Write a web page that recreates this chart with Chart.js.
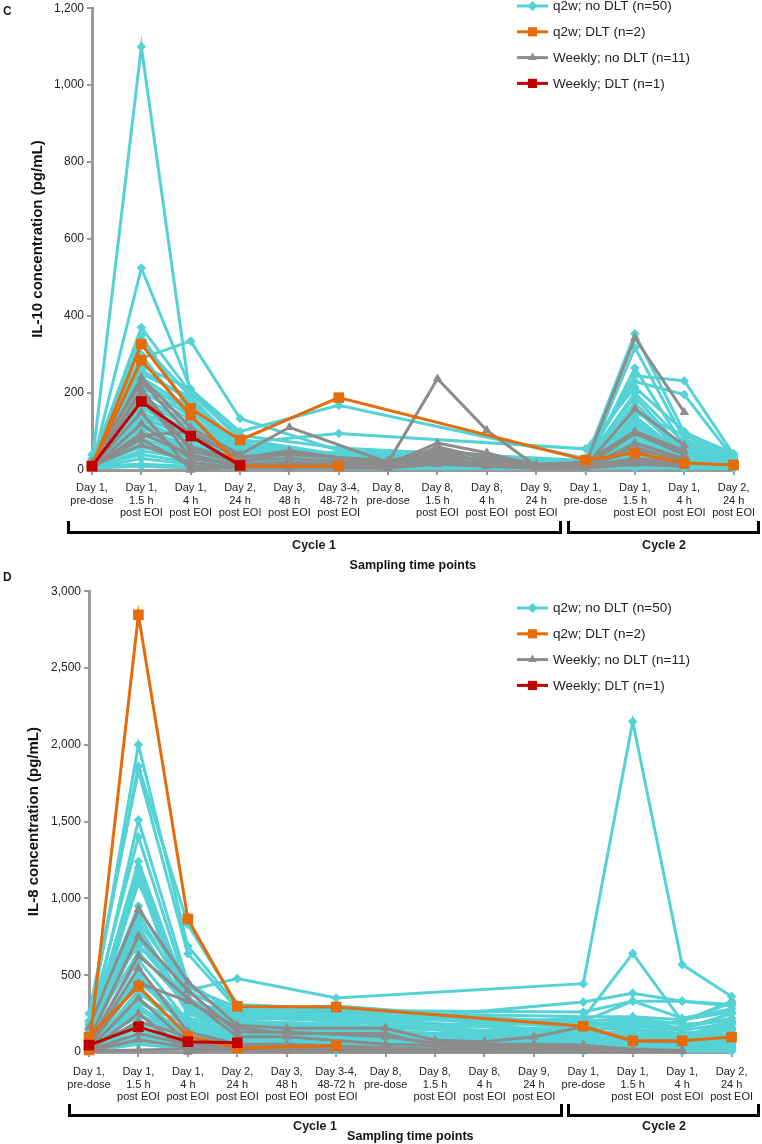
<!DOCTYPE html>
<html><head><meta charset="utf-8">
<script src="https://cdn.jsdelivr.net/npm/chart.js@4.4.1/dist/chart.umd.min.js"></script>
<style>
html,body{margin:0;padding:0;background:#fff;}
#page{position:relative;width:762px;height:1144px;overflow:hidden;font-family:Arial,'Liberation Sans',sans-serif;color:#1a1a1a;}
.box{position:absolute;left:0;width:762px;}
.letter{position:absolute;font-weight:bold;font-size:12px;line-height:12px;}
.br{position:absolute;border:3px solid #000;border-top:none;box-sizing:border-box;}
.cyc{position:absolute;font-weight:bold;font-size:12.5px;line-height:13px;transform:translate(-50%,-50%);white-space:nowrap;}
</style></head><body>
<div id="page">
  <div class="box" style="top:-2px;height:577px"><canvas id="cC"></canvas></div>
  <div class="box" style="top:581px;height:563px"><canvas id="cD"></canvas></div>
  <div class="letter" style="left:3px;top:5px">C</div>
  <div class="letter" style="left:3px;top:571px">D</div>
  <div class="br" style="left:67px;top:521px;width:495px;height:13px"></div>
  <div class="br" style="left:567px;top:521px;width:193px;height:13px"></div>
  <div class="cyc" style="left:314px;top:545px">Cycle 1</div>
  <div class="cyc" style="left:664px;top:545px">Cycle 2</div>
  <div class="br" style="left:68px;top:1104px;width:495px;height:13px"></div>
  <div class="br" style="left:567px;top:1104px;width:193px;height:13px"></div>
  <div class="cyc" style="left:315px;top:1126px">Cycle 1</div>
  <div class="cyc" style="left:664px;top:1126px">Cycle 2</div>
</div>
<script>
const _ = null;
const timeLabels = [
  ["Day 1,","pre-dose"],["Day 1,","1.5 h","post EOI"],["Day 1,","4 h","post EOI"],
  ["Day 2,","24 h","post EOI"],["Day 3,","48 h","post EOI"],["Day 3-4,","48-72 h","post EOI"],
  ["Day 8,","pre-dose"],["Day 8,","1.5 h","post EOI"],["Day 8,","4 h","post EOI"],
  ["Day 9,","24 h","post EOI"],["Day 1,","pre-dose"],["Day 1,","1.5 h","post EOI"],
  ["Day 1,","4 h","post EOI"],["Day 2,","24 h","post EOI"]
];
const groupNames = ["q2w; no DLT (n=50)", "q2w; DLT (n=2)", "Weekly; no DLT (n=11)", "Weekly; DLT (n=1)"];
const il10Ticks = [0, 200, 400, 600, 800, 1000, 1200];
const il8Ticks = [0, 500, 1000, 1500, 2000, 2500, 3000];

// ---------- IL-10 (panel C) ----------
const il10_q2w_noDLT = [
  [15,1100,180,60,_,30,_,_,_,_,20,160,60,20],
  [10,525,210,80,_,40,_,_,_,_,15,120,50,15],
  [20,370,200,90,_,57,_,_,_,_,25,354,97,43],
  [10,350,150,70,_,30,_,_,_,_,10,318,80,25],
  [15,330,190,60,_,20,_,_,_,_,10,265,60,20],
  [25,290,335,134,_,50,_,_,_,_,20,245,232,40],
  [10,270,210,100,_,168,_,_,_,_,30,230,196,30],
  [30,260,180,70,_,95,_,_,_,_,55,215,100,35],
  [10,250,190,50,_,45,_,_,_,_,20,200,70,20],
  [20,240,160,60,_,30,_,_,_,_,15,190,50,15],
  [10,230,150,55,_,25,_,_,_,_,10,175,45,20],
  [15,220,140,45,_,20,_,_,_,_,15,160,40,10],
  [10,205,130,40,_,15,_,_,_,_,10,140,35,10],
  [5,190,120,50,_,20,_,_,_,_,20,130,30,15],
  [10,180,110,40,_,20,_,_,_,_,10,120,25,10],
  [20,170,100,35,_,15,_,_,_,_,5,110,20,10],
  [10,160,100,30,_,10,_,_,_,_,10,100,30,20],
  [10,150,90,30,_,10,_,_,_,_,15,90,25,10],
  [5,140,80,25,_,10,_,_,_,_,10,80,20,15],
  [10,130,70,25,_,10,_,_,_,_,5,70,15,5],
  [15,120,70,20,_,15,_,_,_,_,10,60,20,10],
  [10,110,60,20,_,10,_,_,_,_,10,50,15,10],
  [5,100,55,15,_,10,_,_,_,_,5,45,10,5],
  [10,90,50,20,_,10,_,_,_,_,10,40,10,5],
  [10,80,45,15,_,5,_,_,_,_,5,35,10,10],
  [5,70,40,10,_,5,_,_,_,_,10,30,5,5],
  [10,60,35,10,_,5,_,_,_,_,5,25,5,5],
  [5,50,30,10,_,5,_,_,_,_,5,20,10,5],
  [10,40,20,10,_,5,_,_,_,_,5,15,5,5],
  [5,30,15,5,_,5,_,_,_,_,5,10,5,5],
  [10,15,10,5,_,5,_,_,_,_,5,10,5,5],
  [5,10,5,5,_,5,_,_,_,_,5,5,5,5],
  [40,135,90,60,_,35,_,_,_,_,20,90,60,20],
  [15,115,200,80,_,30,_,_,_,_,15,75,40,15],
  [20,300,130,65,_,25,_,_,_,_,25,150,90,30],
  [10,210,170,45,_,20,_,_,_,_,20,100,70,25],
  [5,95,60,30,_,15,_,_,_,_,10,60,40,15],
  [25,65,40,20,_,10,_,_,_,_,15,40,30,10]
];
const il10_q2w_DLT = [
  [10,327,160,78,_,188,_,_,_,_,26,44,18,13],
  [10,285,142,10,_,10,_,_,_,_,_,_,_,_]
];
const il10_weekly_noDLT = [
  [10,240,110,40,111,_,20,237,103,10,15,343,150,_],
  [5,210,50,20,45,_,15,70,45,10,10,159,64,_],
  [15,200,30,15,20,_,10,60,30,5,10,95,40,_],
  [10,150,0,10,10,_,10,50,20,5,5,70,30,_],
  [5,95,40,10,15,_,5,35,15,10,10,30,20,_],
  [10,65,20,5,10,_,5,20,10,5,5,20,10,_],
  [20,230,90,35,40,_,25,45,40,15,20,100,50,_],
  [10,180,60,25,30,_,15,40,25,10,10,50,30,_],
  [5,120,30,15,20,_,10,25,15,5,5,25,15,_],
  [10,80,10,5,5,_,5,15,10,5,5,15,10,_],
  [5,90,100,30,50,_,15,55,35,10,10,60,20,_]
];
const il10_weekly_DLT = [
  [10,178,88,12,_,_,_,_,_,_,_,_,_,_]
];

// ---------- IL-8 (panel D) ----------
const il8_q2w_noDLT = [
  [150,2000,690,300,_,250,_,_,_,_,200,220,180,200],
  [200,1860,830,310,_,280,_,_,_,_,150,150,120,150],
  [250,1830,640,280,_,300,_,_,_,_,180,200,150,250],
  [100,1510,450,250,_,230,_,_,_,_,120,120,100,180],
  [180,1400,400,230,_,200,_,_,_,_,100,100,90,150],
  [120,1240,350,200,_,180,_,_,_,_,90,80,70,120],
  [80,1200,300,180,_,150,_,_,_,_,80,70,60,100],
  [150,1150,280,160,_,130,_,_,_,_,60,60,50,80],
  [60,1130,250,150,_,120,_,_,_,_,50,50,40,70],
  [100,850,400,478,_,351,_,_,_,_,445,2152,569,362],
  [90,820,300,200,_,180,_,_,_,_,325,383,331,300],
  [70,800,250,180,_,150,_,_,_,_,220,642,200,320],
  [50,600,200,150,_,130,_,_,_,_,200,331,220,280],
  [40,530,180,130,_,100,_,_,_,_,150,220,150,250],
  [30,500,150,120,_,100,_,_,_,_,120,200,100,200],
  [60,480,140,110,_,90,_,_,_,_,100,150,80,150],
  [20,400,120,100,_,80,_,_,_,_,80,120,60,100],
  [30,350,100,90,_,70,_,_,_,_,60,100,50,80],
  [20,300,90,80,_,60,_,_,_,_,50,80,40,70],
  [10,280,80,70,_,50,_,_,_,_,40,60,30,60],
  [20,250,70,60,_,40,_,_,_,_,30,50,20,40],
  [10,200,60,50,_,30,_,_,_,_,20,40,20,30],
  [10,150,50,40,_,30,_,_,_,_,20,30,10,20],
  [5,100,40,30,_,20,_,_,_,_,10,20,10,10],
  [5,80,30,20,_,10,_,_,_,_,10,10,5,10],
  [5,50,20,10,_,10,_,_,_,_,5,10,5,5],
  [200,700,320,260,_,240,_,_,_,_,170,180,160,220],
  [160,950,380,270,_,260,_,_,_,_,230,230,210,260],
  [130,650,300,240,_,220,_,_,_,_,190,160,200,330],
  [110,1100,420,290,_,270,_,_,_,_,260,330,330,310],
  [90,900,340,220,_,210,_,_,_,_,140,170,140,190],
  [60,750,260,190,_,170,_,_,_,_,110,140,110,160],
  [40,450,220,170,_,160,_,_,_,_,130,110,120,140],
  [30,380,200,140,_,140,_,_,_,_,90,90,100,120],
  [20,320,180,130,_,120,_,_,_,_,70,70,80,90],
  [15,270,160,120,_,110,_,_,_,_,60,60,60,70],
  [50,230,150,100,_,100,_,_,_,_,40,40,40,50],
  [10,180,120,90,_,90,_,_,_,_,30,30,30,30],
  [5,120,100,80,_,80,_,_,_,_,20,20,20,20],
  [5,60,60,60,_,60,_,_,_,_,10,10,10,10]
];
const il8_q2w_DLT = [
  [13,2846,866,297,_,293,_,_,_,_,168,73,73,97],
  [97,427,103,26,_,41,_,_,_,_,_,_,_,_]
];
const il8_weekly_noDLT = [
  [160,930,455,174,155,_,155,77,67,99,164,70,65,_],
  [80,756,400,130,130,_,99,60,50,50,45,10,5,_],
  [50,627,349,100,100,_,50,40,30,30,30,10,5,_],
  [30,550,130,50,50,_,30,13,13,20,20,10,5,_],
  [20,350,60,30,30,_,20,10,10,10,10,5,5,_],
  [10,250,0,20,20,_,10,10,5,5,5,5,5,_],
  [20,200,100,40,40,_,25,20,15,15,15,10,10,_],
  [10,120,50,25,20,_,15,10,10,10,10,5,5,_],
  [5,80,30,15,10,_,10,5,5,5,5,5,5,_],
  [5,13,20,10,5,_,5,5,5,5,5,5,5,_],
  [40,450,330,160,120,_,120,40,40,40,40,20,10,_]
];
const il8_weekly_DLT = [
  [45,164,67,60,_,_,_,_,_,_,_,_,_,_]
];

// ---------- styles ----------
const CYAN = '#55D2D5', ORANGE = '#E46C0A', GRAY = '#8C8C8C', RED = '#C00000';
const groupStyles = [
  {color: CYAN, shape: 'rectRot', r: 4.8},
  {color: ORANGE, shape: 'rect', r: 7.5},
  {color: GRAY, shape: 'triangle', r: 5.5},
  {color: RED, shape: 'rect', r: 7.5}
];

function makeSets(groups) {
  // groups in legend order; draw order: red on top, then orange, gray, cyan
  const drawOrder = [3, 1, 2, 0];
  const sets = [];
  drawOrder.forEach(gi => {
    const st = groupStyles[gi];
    groups[gi].forEach(row => {
      sets.push({
        label: groupNames[gi], data: row,
        borderColor: st.color, backgroundColor: st.color,
        pointBackgroundColor: st.color, pointBorderWidth: 0,
        pointStyle: st.shape, pointRadius: st.r, pointHoverRadius: st.r,
        borderWidth: 3, tension: 0, spanGaps: true, clip: false
      });
    });
  });
  return sets;
}

function drawShape(ctx, shape, r, x, y) {
  ctx.beginPath();
  if (shape === 'rect') {
    const s = Math.SQRT1_2 * r;
    ctx.rect(x - s, y - s, 2 * s, 2 * s);
  } else if (shape === 'rectRot') {
    ctx.moveTo(x, y - r); ctx.lineTo(x + r, y); ctx.lineTo(x, y + r); ctx.lineTo(x - r, y); ctx.closePath();
  } else if (shape === 'triangle') {
    const w = r * Math.sqrt(3);
    ctx.moveTo(x, y - r); ctx.lineTo(x + w / 2, y + r / 2); ctx.lineTo(x - w / 2, y + r / 2); ctx.closePath();
  }
  ctx.fill();
}

const groupLegend = {
  id: 'groupLegend',
  afterDraw(chart, args, opts) {
    const ctx = chart.ctx;
    ctx.save();
    groupNames.forEach((name, i) => {
      const st = groupStyles[i];
      const y = opts.y + i * opts.dy;
      ctx.strokeStyle = st.color; ctx.lineWidth = 3;
      ctx.beginPath(); ctx.moveTo(opts.x, y); ctx.lineTo(opts.x + opts.len, y); ctx.stroke();
      ctx.fillStyle = st.color;
      drawShape(ctx, st.shape, st.shape === 'rect' ? 6.5 : 5, opts.x + opts.len / 2, y);
      ctx.fillStyle = '#222';
      ctx.font = '13.5px Arial, "Liberation Sans", sans-serif';
      ctx.textBaseline = 'middle'; ctx.textAlign = 'left';
      ctx.fillText(name, opts.x + opts.len + 5, y + 0.5);
    });
    ctx.restore();
  }
};

function buildChart(id, groups, tickVals, yTitle, cfg) {
  return new Chart(document.getElementById(id), {
    type: 'line',
    data: {labels: timeLabels, datasets: makeSets(groups)},
    plugins: [groupLegend],
    options: {
      responsive: true, maintainAspectRatio: false, animation: false, devicePixelRatio: 1,
      events: [],
      layout: {padding: {top: 0, right: cfg.padRight, bottom: 0, left: 0}},
      plugins: {
        legend: {display: false}, tooltip: {enabled: false},
        groupLegend: {x: cfg.legX, y: cfg.legY, dy: 25.8, len: 31}
      },
      scales: {
        x: {
          type: 'category', offset: false,
          ticks: {autoSkip: false, maxRotation: 0, minRotation: 0, color: '#222',
                  padding: cfg.xPad, font: {family: 'Arial', size: 11, lineHeight: 1.12}},
          grid: {drawOnChartArea: false, drawTicks: true, tickLength: 5, color: '#999', lineWidth: 2},
          border: {display: true, color: '#999', width: 3},
          title: {display: true, text: 'Sampling time points', color: '#111',
                  font: {family: 'Arial', size: 12.5, weight: 'bold'}, padding: {top: 0, bottom: cfg.xTitlePad}},
          afterFit: s => { s.height = cfg.xHeight; }
        },
        y: {
          min: tickVals[0], max: tickVals[tickVals.length - 1],
          afterBuildTicks: s => { s.ticks = tickVals.map(v => ({value: v})); },
          ticks: {color: '#222', padding: 3, font: {family: 'Arial', size: 12},
                  callback: v => Number(v).toLocaleString('en-US')},
          grid: {drawOnChartArea: false, drawTicks: true, tickLength: 5, color: '#999', lineWidth: 2},
          border: {display: true, color: '#999', width: 3},
          title: {display: true, text: yTitle, color: '#111',
                  font: {family: 'Arial', size: 15, weight: 'bold'}, padding: {top: cfg.yTitlePad, bottom: 0}},
          afterFit: s => { s.width = cfg.yWidth; }
        }
      }
    }
  });
}

buildChart('cC', [il10_q2w_noDLT, il10_q2w_DLT, il10_weekly_noDLT, il10_weekly_DLT], il10Ticks,
  'IL-10 concentration (pg/mL)',
  {padRight: 23, yWidth: 92, xHeight: 105, xPad: 7, xTitlePad: 2, yTitlePad: 29, legX: 517, legY: 8});
buildChart('cD', [il8_q2w_noDLT, il8_q2w_DLT, il8_weekly_noDLT, il8_weekly_DLT], il8Ticks,
  'IL-8 concentration (pg/mL)',
  {padRight: 27, yWidth: 89, xHeight: 92, xPad: 9, xTitlePad: 0, yTitlePad: 25, legX: 517, legY: 27});
</script>
</body></html>
